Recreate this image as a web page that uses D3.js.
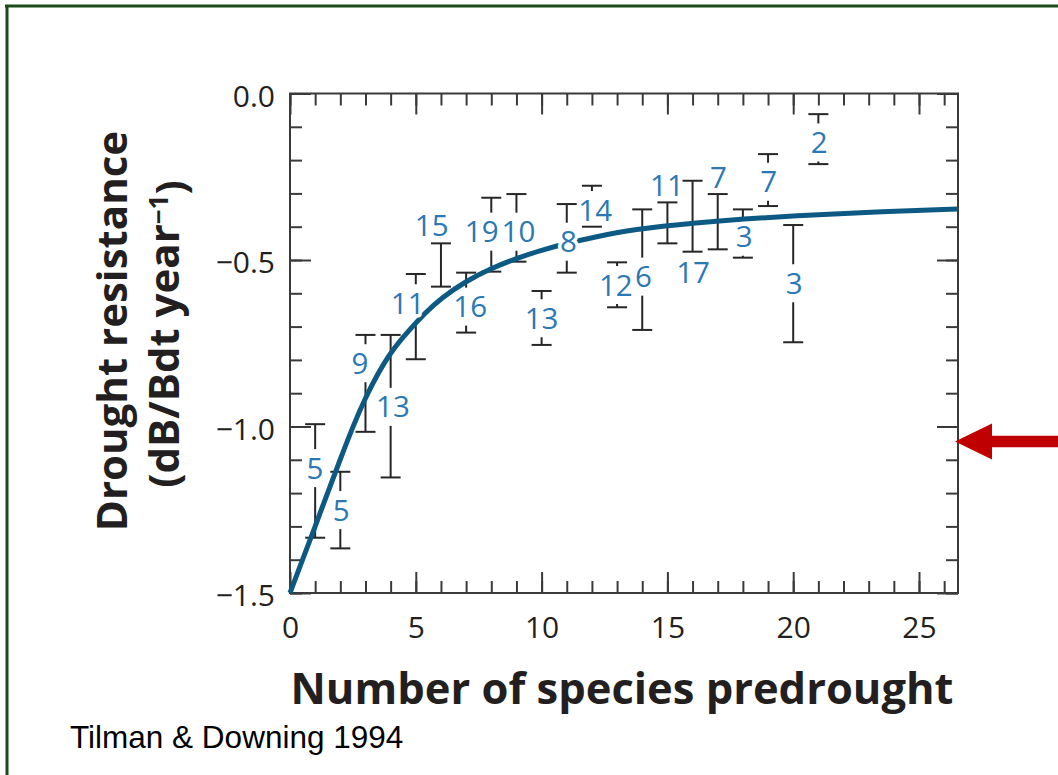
<!DOCTYPE html>
<html>
<head>
<meta charset="utf-8">
<script src="https://cdn.jsdelivr.net/npm/d3@7"></script>
<style>
  html, body { margin: 0; padding: 0; background: #fff; }
  svg { display: block; }
</style>
</head>
<body>
<svg id="chart" width="1058" height="775"></svg>
<script>
// ---------------- data ----------------
const species   = [1, 2, 3, 4, 5, 6, 7, 8, 9, 10, 11, 12, 13, 14, 15, 16, 17, 18, 19, 20, 21];
const upperVals = [-0.993, -1.136, -0.725, -0.725, -0.542, -0.450, -0.538, -0.313, -0.302, -0.593, -0.332,
                   -0.277, -0.507, -0.348, -0.327, -0.262, -0.302, -0.348, -0.182, -0.395, -0.062];
const lowerVals = [-1.334, -1.366, -1.016, -1.153, -0.798, -0.580, -0.718, -0.535, -0.505, -0.755, -0.538,
                   -0.400, -0.642, -0.710, -0.450, -0.475, -0.468, -0.493, -0.338, -0.747, -0.212];
const plotCounts = [5, 5, 9, 13, 11, 15, 16, 19, 10, 13, 8, 14, 12, 6, 11, 17, 7, 3, 7, 3, 2];
const labelX = [0.99, 2.03, 2.78, 4.09, 4.68, 5.63, 7.16, 7.62, 9.08, 10.0, 11.07,
                12.13, 12.95, 14.05, 14.98, 16.02, 17.03, 18.05, 19.03, 20.04, 21.03];
const labelY = [-1.125, -1.251, -0.810, -0.941, -0.630, -0.395, -0.640, -0.415, -0.415, -0.675, -0.445,
                -0.350, -0.575, -0.550, -0.275, -0.538, -0.252, -0.430, -0.265, -0.570, -0.147];

// fitted curve, points
const fitX = [0, 0.5, 1, 1.5, 2, 2.5, 3, 3.5, 4, 4.7, 5.4, 6, 7, 8, 9, 10, 11, 12, 13.6, 16.3, 18, 20, 23, 26.55];
const fitY = [-1.5, -1.40, -1.30, -1.198, -1.098, -1.0, -0.913, -0.84, -0.777, -0.713, -0.657, -0.615, -0.563,
              -0.525, -0.495, -0.47, -0.45, -0.433, -0.408, -0.387, -0.377, -0.367, -0.356, -0.347];

const xMajorTicks = [0, 5, 10, 15, 20, 25];
const xMinorTicks = d3.range(0, 27);
const yMajorTicks = [0, -0.5, -1.0, -1.5];
const yMinorTicks = d3.range(0, 16).map(i => -i / 10);
const xDomain = [0, 26.55];
const yDomain = [-1.5, 0];
const arrowValue = -1.045;

// ---------------- layout ----------------
const L = 290, R = 958, T = 93.5, B = 593;
const svg = d3.select("#chart");
const x = d3.scaleLinear().domain(xDomain).range([L, R]);
const y = d3.scaleLinear().domain(yDomain).range([B, T]);

const tickFont = "'Open Sans', 'Noto Sans', sans-serif";

// page frame (green lines top and left)
svg.append("line").attr("x1", 7).attr("x2", 7).attr("y1", 5).attr("y2", 775)
   .attr("stroke", "#1b4a1b").attr("stroke-width", 3);
svg.append("line").attr("x1", 5).attr("x2", 1058).attr("y1", 6).attr("y2", 6)
   .attr("stroke", "#1b4a1b").attr("stroke-width", 3);

// ---------------- axes ----------------
const MAJ = 21, MIN = 12;
function styleAxis(g) {
  g.select(".domain").remove();
  g.selectAll(".tick line").attr("stroke", "#3a3a3a").attr("stroke-width", 2);
  g.selectAll(".tick text").attr("fill", "#231f20")
    .style("font-family", tickFont).style("font-size", "30px");
}
// bottom
svg.append("g").attr("transform", `translate(0,${B})`)
  .call(d3.axisBottom(x).tickValues(xMinorTicks).tickSizeInner(-MIN).tickSizeOuter(0).tickFormat(""))
  .call(styleAxis);
svg.append("g").attr("transform", `translate(0,${B})`)
  .call(d3.axisBottom(x).tickValues(xMajorTicks).tickSizeInner(-MAJ).tickSizeOuter(0)
        .tickPadding(24).tickFormat(d3.format("d")))
  .call(styleAxis);
// top
svg.append("g").attr("transform", `translate(0,${T})`)
  .call(d3.axisTop(x).tickValues(xMinorTicks).tickSizeInner(-MIN).tickSizeOuter(0).tickFormat(""))
  .call(styleAxis);
svg.append("g").attr("transform", `translate(0,${T})`)
  .call(d3.axisTop(x).tickValues(xMajorTicks).tickSizeInner(-MAJ).tickSizeOuter(0).tickFormat(""))
  .call(styleAxis);
// left
svg.append("g").attr("transform", `translate(${L},0)`)
  .call(d3.axisLeft(y).tickValues(yMinorTicks).tickSizeInner(-MIN).tickSizeOuter(0).tickFormat(""))
  .call(styleAxis);
const leftMajor = svg.append("g").attr("transform", `translate(${L},0)`)
  .call(d3.axisLeft(y).tickValues(yMajorTicks).tickSizeInner(-MAJ).tickSizeOuter(0)
        .tickPadding(15).tickFormat(d3.format(".1f")))
  .call(styleAxis);
leftMajor.selectAll(".tick text").attr("dy", "0.42em");
// right
svg.append("g").attr("transform", `translate(${R},0)`)
  .call(d3.axisRight(y).tickValues(yMinorTicks).tickSizeInner(-MIN).tickSizeOuter(0).tickFormat(""))
  .call(styleAxis);
svg.append("g").attr("transform", `translate(${R},0)`)
  .call(d3.axisRight(y).tickValues(yMajorTicks).tickSizeInner(-MAJ).tickSizeOuter(0).tickFormat(""))
  .call(styleAxis);

// plot frame
svg.append("rect").attr("x", L).attr("y", T).attr("width", R - L).attr("height", B - T)
  .attr("fill", "none").attr("stroke", "#3a3a3a").attr("stroke-width", 2);

// ---------------- error bars ----------------
const GAP = 19, CAP = 10;
const pts = species.map((s, i) => ({
  x: s, hi: upperVals[i], lo: lowerVals[i], n: plotCounts[i], lx: labelX[i], ly: labelY[i]
}));
const bars = svg.append("g").attr("stroke", "#262626").attr("stroke-width", 2).attr("fill", "none");
pts.forEach(p => {
  const bx = x(p.x), yt = y(p.hi), yb = y(p.lo), yl = y(p.ly);
  const segs = [];
  if (p.ly <= p.hi && p.ly >= p.lo) {
    if (yl - GAP > yt) segs.push([yt, yl - GAP]);
    if (yl + GAP < yb) segs.push([yl + GAP, yb]);
  } else {
    segs.push([yt, yb]);
  }
  segs.forEach(s => bars.append("line").attr("x1", bx).attr("x2", bx).attr("y1", s[0]).attr("y2", s[1]));
  [yt, yb].forEach(yy => bars.append("line").attr("x1", bx - CAP).attr("x2", bx + CAP).attr("y1", yy).attr("y2", yy));
});

// ---------------- fitted curve ----------------
const curvePts = fitX.map((v, i) => [v, fitY[i]]);
svg.append("path")
  .datum(curvePts)
  .attr("d", d3.line().x(d => x(d[0])).y(d => y(d[1])).curve(d3.curveBasis))
  .attr("fill", "none").attr("stroke", "#0c5a84").attr("stroke-width", 5).attr("stroke-linecap", "butt");

// ---------------- count labels ----------------
const FS = 29.5;
svg.append("g").selectAll("text").data(pts).join("text")
  .attr("x", d => x(d.lx))
  .attr("y", d => y(d.ly) + FS * 0.357)
  .attr("text-anchor", "middle")
  .style("font-family", tickFont).style("font-size", FS + "px")
  .attr("fill", "#2a78b4")
  .attr("stroke", "#fff").attr("stroke-width", 7).attr("stroke-linejoin", "round")
  .style("paint-order", "stroke")
  .text(d => d.n);

// ---------------- titles ----------------
const titleFont = "'Open Sans', 'Noto Sans', sans-serif";
svg.append("text").attr("x", 622).attr("y", 704).attr("text-anchor", "middle")
  .style("font-family", titleFont).style("font-weight", "bold").style("font-size", "43.5px")
  .attr("fill", "#231f20").text("Number of species predrought");

svg.append("text").attr("transform", "translate(127,331) rotate(-90)").attr("text-anchor", "middle")
  .style("font-family", titleFont).style("font-weight", "bold").style("font-size", "42px")
  .attr("fill", "#231f20").text("Drought resistance");

const t2 = svg.append("text").attr("transform", "translate(179,334) rotate(-90)").attr("text-anchor", "middle")
  .style("font-family", titleFont).style("font-weight", "bold").style("font-size", "42px")
  .attr("fill", "#231f20");
t2.append("tspan").text("(dB/Bdt year");
t2.append("tspan").attr("dy", "-0.42em").style("font-size", "26px").text("\u22121");
t2.append("tspan").attr("dy", "0.42em").text(")");

// caption
svg.append("text").attr("x", 70).attr("y", 748)
  .style("font-family", "'Liberation Sans', Arial, sans-serif").style("font-size", "31.5px")
  .attr("fill", "#000").text("Tilman & Downing 1994");

// red arrow pointing at the right axis
const ay = y(arrowValue), ax = R - 3;
svg.append("path")
  .attr("d", `M${ax},${ay} L${ax + 37},${ay - 18} L${ax + 37},${ay - 5.7} L1058,${ay - 5.7} L1058,${ay + 5.7} L${ax + 37},${ay + 5.7} L${ax + 37},${ay + 18} Z`)
  .attr("fill", "#c00000");
</script>
</body>
</html>
